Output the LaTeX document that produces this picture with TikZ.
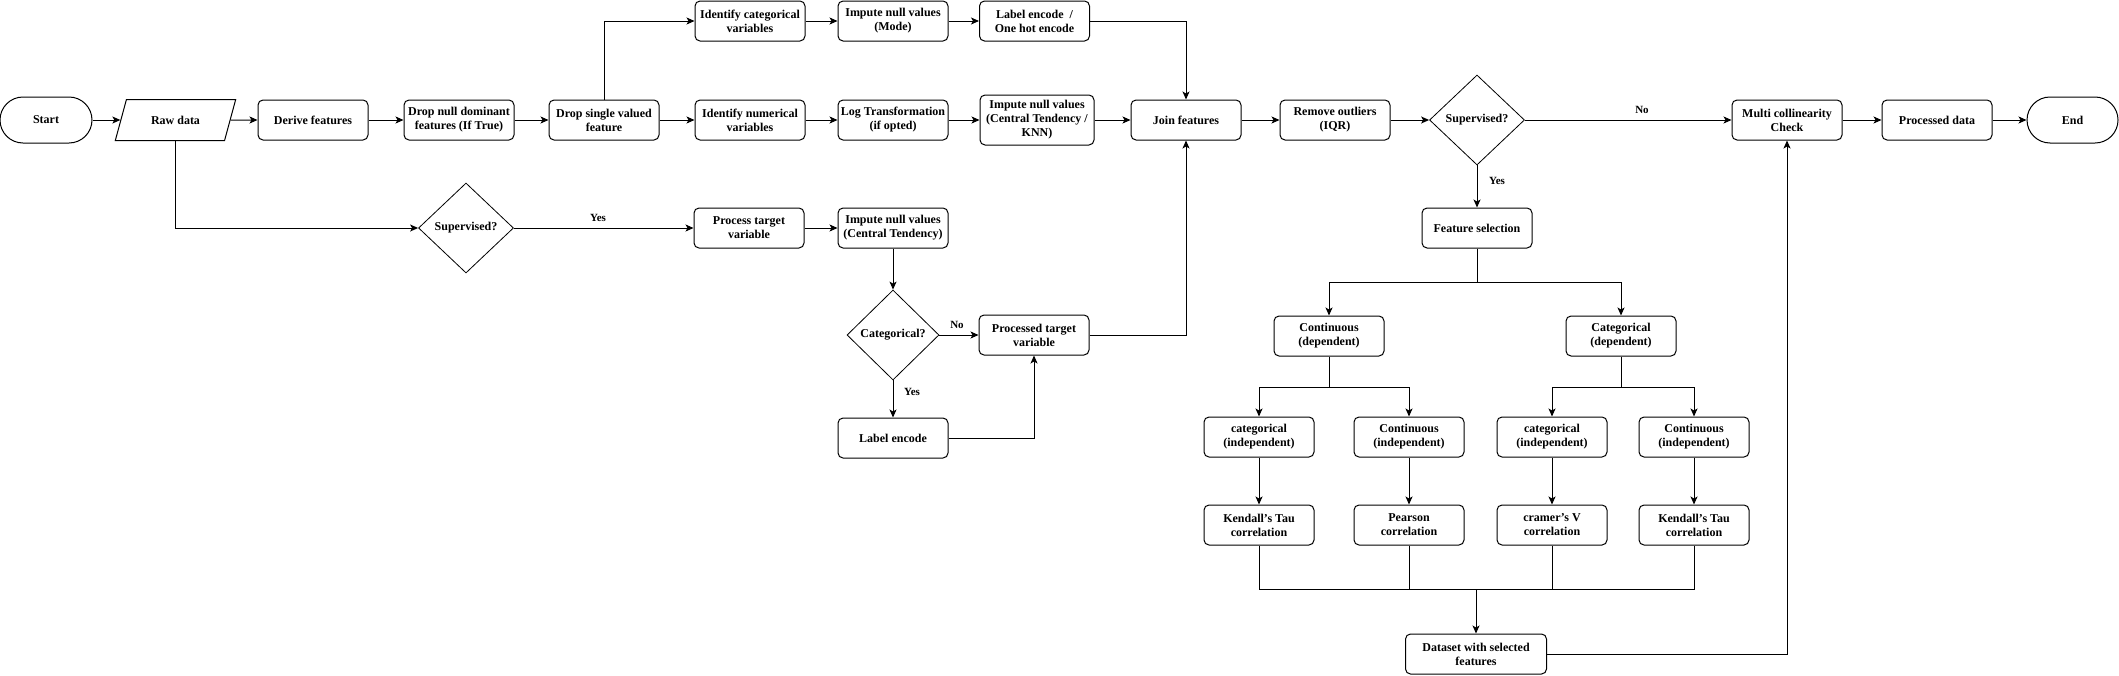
\documentclass[tikz,border=0pt]{standalone}
\usepackage{fontspec}
\setmainfont{Liberation Serif}
\usetikzlibrary{shapes.geometric,arrows.meta,calc}
\begin{document}
\begin{tikzpicture}[x=1pt,y=-1pt,
  txt/.style={font=\fontsize{12}{14}\selectfont\bfseries},
  box/.style={txt, draw, line width=1pt, rounded corners=5pt, minimum width=110pt, minimum height=40pt, align=center, inner sep=1pt},
  term/.style={box, minimum width=92pt, minimum height=46pt, rounded corners=23pt},
  dec/.style={txt, draw, line width=0.8pt, diamond, minimum width=95pt, minimum height=90pt, inner sep=1pt, align=center},
  para/.style={txt, draw, line width=1pt, trapezium, trapezium left angle=61, trapezium right angle=119, trapezium stretches=true, minimum width=121pt, minimum height=41pt, inner sep=1pt},
  lab/.style={font=\fontsize{11}{13}\selectfont\bfseries, inner sep=0pt},
  ln/.style={line width=1pt},
  arr/.style={line width=1pt, -{Stealth[length=8pt,width=7pt,inset=2pt]}}
]
\useasboundingbox (0,0) rectangle (2119,675);

% main row
\node[term] (start) at (46,120) {Start};
\node[para] (raw) at (175.5,120) {Raw data};
\node[box] (derive) at (313,120) {Derive features};
\node[box] (dropnull) at (459,120) {Drop null dominant\\features (If True)};
\node[box] (dropsingle) at (604,120) {Drop single valued\\feature};
\node[box] (idcat) at (750,21) {Identify categorical\\variables};
\node[box] (idnum) at (750,120) {Identify numerical\\variables};
\node[box] (impmode) at (893,21) {Impute null values\\(Mode)};
\node[box] (logt) at (893,120) {Log Transformation\\(if opted)};
\node[box] (encode) at (1034.5,21) {Label encode\ \ /\\One hot encode};
\node[box, minimum width=114pt, minimum height=50pt] (impknn) at (1037,120) {Impute null values\\(Central Tendency /\\KNN)};
\node[box] (join) at (1186,120) {Join features};
\node[box] (outl) at (1335,120) {Remove outliers\\(IQR)};
\node[dec] (sup2) at (1477,120) {Supervised?};
\node[box] (multi) at (1787,120) {Multi collinearity\\Check};
\node[box] (procdata) at (1937,120) {Processed data};
\node[term, minimum width=91pt] (end) at (2072.5,120) {End};

% target branch
\node[dec] (sup1) at (466,228) {Supervised?};
\node[box] (proct) at (749,228) {Process target\\variable};
\node[box] (impct) at (893,228) {Impute null values\\(Central Tendency)};
\node[dec, minimum width=92pt] (catq) at (893,335) {Categorical?};
\node[box] (ptv) at (1034,335) {Processed target\\variable};
\node[box] (lenc) at (893,438) {Label encode};

% feature selection tree
\node[box] (fs) at (1477,228) {Feature selection};
\node[box] (contdep) at (1329,336) {Continuous\\(dependent)};
\node[box] (catdep) at (1621,336) {Categorical\\(dependent)};
\node[box] (catind1) at (1259,437) {categorical\\(independent)};
\node[box] (contind1) at (1409,437) {Continuous\\(independent)};
\node[box] (catind2) at (1552,437) {categorical\\(independent)};
\node[box] (contind2) at (1694,437) {Continuous\\(independent)};
\node[box] (kend1) at (1259,525) {Kendall's Tau\\correlation};
\node[box] (pear) at (1409,525) {Pearson\\correlation};
\node[box] (cram) at (1552,525) {cramer's V\\correlation};
\node[box] (kend2) at (1694,525) {Kendall's Tau\\correlation};
\node[box, minimum width=141pt] (dsel) at (1476,654) {Dataset with selected\\features};

\coordinate (j1) at (1477,282);
\coordinate (j2) at (1329,387);
\coordinate (j3) at (1621,387);
\coordinate (j4) at (1476,589);

% main row connectors
\draw[arr] (start) -- (raw);
\draw[arr] (raw) -- (derive);
\draw[arr] (derive) -- (dropnull);
\draw[arr] (dropnull) -- (dropsingle);
\draw[arr] (dropsingle.north) |- (idcat.west);
\draw[arr] (dropsingle) -- (idnum);
\draw[arr] (idcat) -- (impmode);
\draw[arr] (impmode) -- (encode);
\draw[arr] (idnum) -- (logt);
\draw[arr] (logt) -- (impknn);
\draw[arr] (impknn) -- (join);
\draw[arr] (encode.east) -| (join.north);
\draw[arr] (join) -- (outl);
\draw[arr] (outl) -- (sup2);
\draw[arr] (sup2) -- (multi);
\node[lab] (lno2) at (1642,110) {No};
\draw[arr] (sup2) -- (fs);
\node[lab] (lyes2) at (1497,181) {Yes};
\draw[arr] (multi) -- (procdata);
\draw[arr] (procdata) -- (end);

% target branch connectors
\draw[arr] (raw.south) |- (sup1.west);
\draw[arr] (sup1) -- (proct);
\node[lab] (lyes1) at (598,218) {Yes};
\draw[arr] (proct) -- (impct);
\draw[arr] (impct) -- (catq);
\draw[arr] (catq) -- (ptv);
\node[lab] (lno1) at (957,325) {No};
\draw[arr] (catq) -- (lenc);
\node[lab] (lyes3) at (912,392) {Yes};
\draw[arr] (lenc.east) -| (ptv.south);
\draw[arr] (ptv.east) -| (join.south);

% tree connectors
\draw[ln] (fs) -- (j1);
\draw[arr] (j1) -| (contdep.north);
\draw[arr] (j1) -| (catdep.north);
\draw[ln] (contdep) -- (j2);
\draw[arr] (j2) -| (catind1.north);
\draw[arr] (j2) -| (contind1.north);
\draw[ln] (catdep) -- (j3);
\draw[arr] (j3) -| (catind2.north);
\draw[arr] (j3) -| (contind2.north);
\draw[arr] (catind1) -- (kend1);
\draw[arr] (contind1) -- (pear);
\draw[arr] (catind2) -- (cram);
\draw[arr] (contind2) -- (kend2);
\draw[ln] (kend1.south) |- (j4);
\draw[ln] (pear.south) |- (j4);
\draw[ln] (cram.south) |- (j4);
\draw[ln] (kend2.south) |- (j4);
\draw[arr] (j4) -- (dsel);
\draw[arr] (dsel.east) -| (multi.south);
\end{tikzpicture}
\end{document}
